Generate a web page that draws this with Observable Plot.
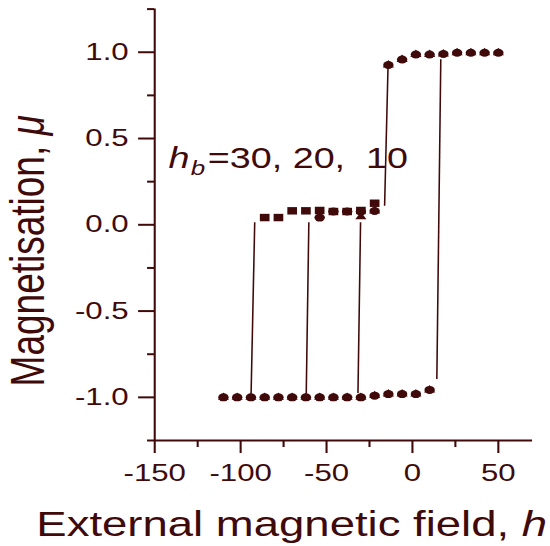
<!DOCTYPE html>
<html><head><meta charset="utf-8">
<script src="https://cdn.jsdelivr.net/npm/d3@7"></script>
<script src="https://cdn.jsdelivr.net/npm/@observablehq/plot@0.6"></script>
<style>html,body{margin:0;padding:0;background:#fff;} #chart svg{display:block}</style>
</head><body><div id="chart"></div>
<script>
// ---- data ----
const hBottom = [-110,-102,-94,-86,-78,-70,-62,-54,-46,-38,-30,-22,-14,-6,2,10];
const muBottom = [-1,-1,-1,-1,-1,-1,-1,-1,-1,-1,-1,-0.99,-0.981,-0.981,-0.981,-0.957];
const hTop = [-14,-6,2,10,18,26,34,42,50];
const muTop = [0.926,0.958,0.987,0.987,0.99,0.997,0.997,0.997,0.997];
const hPlateau30 = [-22,-30,-38,-46,-54,-62,-70,-78,-86];
const muPlateau30 = [0.125,0.083,0.077,0.077,0.083,0.081,0.081,0.042,0.042];
const hPlateau20 = [-22,-30,-38,-46,-54];
const muPlateau20 = [0.08,0.077,0.077,0.077,0.042];
const hPlateau10 = [-22,-30];
const muPlateau10 = [0.08,0.046];
const jumpH1 = [-91.8,-60.3,-30.2,-14.2,16.5];
const jumpMu1 = [0.015,0.015,0.015,0.92,0.96];
const jumpH2 = [-93.9,-61.8,-31.7,-16.2,14.2];
const jumpMu2 = [-0.975,-0.975,-0.975,0.11,-0.893];
const xTicks = [-150,-100,-50,0,50];
const xMinorTicks = [-125,-75,-25,25];
const yTicks = [-1,-0.5,0,0.5,1];
const yMinorTicks = [-1.25,-0.75,-0.25,0.25,0.75,1.25];
const yLabel = "Magnetisation, μ";
const xLabel = "External magnetic field, h";
const annotText = "hb=30, 20, \u00a010";

// ---- build ----
const W = 423, H = 546, OUTW = 550;
const C = "#400a0a";
const pts = (hs, ms) => hs.map((h, i) => ({h, mu: ms[i]}));
const bottom = pts(hBottom, muBottom);
const topB = pts(hTop, muTop);
const p30 = pts(hPlateau30, muPlateau30);
const p20 = pts(hPlateau20, muPlateau20);
const p10 = pts(hPlateau10, muPlateau10);
const jumps = jumpH1.map((h, i) => ({x1: h, y1: jumpMu1[i], x2: jumpH2[i], y2: jumpMu2[i]}));

const plot = Plot.plot({
  width: W, height: H,
  marginLeft: 118.5, marginRight: 13.8, marginTop: 8.6, marginBottom: 106,
  style: {fontFamily: "'Liberation Sans', Arial, sans-serif", fontSize: "24px", color: C, background: "white", overflow: "visible"},
  x: {domain: [-150, 70], axis: null},
  y: {domain: [-1.25, 1.25], axis: null},
  marks: [
    Plot.ruleX([-150], {stroke: C, strokeWidth: 1.6}),
    Plot.ruleY([-1.25], {stroke: C, strokeWidth: 2}),
    Plot.axisX(xTicks, {tickSize: 13, tickPadding: 10, tickFormat: d => String(d), strokeWidth: 1.6, fontSize: 24, label: null}),
    Plot.axisX(xMinorTicks, {tickSize: 7, tickFormat: () => "", strokeWidth: 1.6, label: null}),
    Plot.axisY(yTicks, {tickSize: 12.3, tickPadding: 7.7, tickFormat: d => d.toFixed(1), strokeWidth: 2, fontSize: 24, label: null}),
    Plot.axisY(yMinorTicks, {tickSize: 5.4, tickFormat: () => "", strokeWidth: 2, label: null}),
    Plot.link(jumps, {x1: "x1", y1: "y1", x2: "x2", y2: "y2", stroke: C, strokeWidth: 1.2}),
    Plot.dot(bottom, {x: "h", y: "mu", r: 4, fill: C}),
    Plot.dot(bottom, {x: "h", y: "mu", r: 3.2, symbol: "triangle", fill: C}),
    Plot.dot(topB, {x: "h", y: "mu", r: 4, fill: C}),
    Plot.dot(topB, {x: "h", y: "mu", r: 3.2, symbol: "triangle", fill: C}),
    Plot.dot(p30, {x: "h", y: "mu", r: 4.2, symbol: "square", fill: C}),
    Plot.dot(p20, {x: "h", y: "mu", r: 4, fill: C}),
    Plot.dot(p10, {x: "h", y: "mu", r: 3.2, symbol: "triangle", fill: C}),
    Plot.text([yLabel], {text: d => d, frameAnchor: "left", dx: -97.3, dy: 26, rotate: -90, fontSize: 37, textAnchor: "middle", lineAnchor: "middle", fill: C}),
    Plot.text([xLabel], {text: d => d, frameAnchor: "bottom", dx: -40, dy: 95, fontSize: 35, textAnchor: "middle", lineAnchor: "bottom", fill: C}),
    Plot.text([{h: -142, mu: 0.329, t: annotText}], {x: "h", y: "mu", text: "t", fontSize: 29, textAnchor: "start", lineAnchor: "bottom", fill: C})
  ]
});

// rich text (italic symbols, subscript)
const NS = "http://www.w3.org/2000/svg";
function rich(el, parts) {
  el.textContent = "";
  for (const p of parts) {
    const ts = document.createElementNS(NS, "tspan");
    ts.textContent = p.t;
    if (p.italic) ts.setAttribute("font-style", "italic");
    if (p.size) ts.setAttribute("font-size", p.size);
    if (p.dy != null) ts.setAttribute("dy", p.dy);
    if (p.dx != null) ts.setAttribute("dx", p.dx);
    el.appendChild(ts);
  }
}
plot.querySelectorAll("text").forEach(el => {
  const s = el.textContent;
  if (s === yLabel) rich(el, [{t: "Magnetisation, "}, {t: "μ", italic: true}]);
  else if (s === xLabel) rich(el, [{t: "External magnetic field, "}, {t: "h", italic: true}]);
  else if (s === annotText) rich(el, [{t: "h", italic: true}, {t: "b", italic: true, size: 20, dy: 7, dx: 1}, {t: "=30, 20, \u00a010", dy: -7, dx: 2}]);
});

// stretch horizontally like the reference
plot.setAttribute("width", OUTW);
plot.setAttribute("height", H);
plot.setAttribute("preserveAspectRatio", "none");
plot.style.width = OUTW + "px";
plot.style.height = H + "px";
plot.style.maxWidth = "none";
document.getElementById("chart").appendChild(plot);
</script>
</body></html>
